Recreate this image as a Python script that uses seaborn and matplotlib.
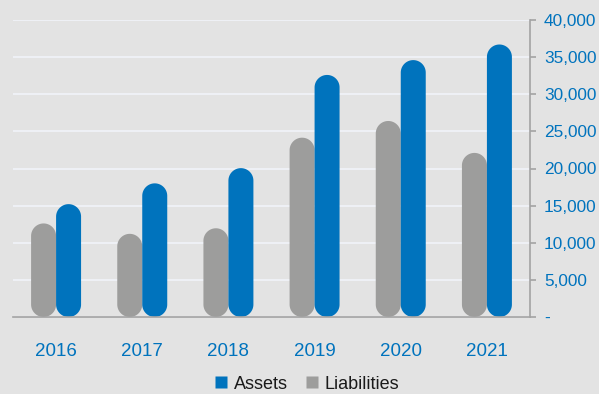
import matplotlib
matplotlib.use("Agg")
import matplotlib.pyplot as plt
from matplotlib.patches import Polygon
from matplotlib.lines import Line2D
from matplotlib.ticker import FuncFormatter, FixedLocator
import seaborn as sns
import pandas as pd
import numpy as np

years = ["2016", "2017", "2018", "2019", "2020", "2021"]
assets = [15200, 18000, 20050, 32600, 34600, 36700]
liabilities = [12600, 11200, 11950, 24150, 26400, 22100]
series_names = ["Liabilities", "Assets"]
legend_order = ["Assets", "Liabilities"]
y_ticks = [0, 5000, 10000, 15000, 20000, 25000, 30000, 35000, 40000]

BLUE = "#0073BD"
GRAY = "#9D9D9C"
BG = "#E3E3E3"
GRID = "#EEF0F5"
AXIS = "#A3A3A3"

df = pd.DataFrame({
    "year": years * 2,
    "value": liabilities + assets,
    "series": ["Liabilities"] * len(years) + ["Assets"] * len(years),
})

sns.set_style("white")
plt.rcParams["font.family"] = ["Liberation Sans", "DejaVu Sans"]

fig = plt.figure(figsize=(5.99, 3.94), dpi=100, facecolor=BG)
ax = fig.add_axes([13 / 599, (394 - 317) / 394, 517 / 599, 297 / 394])
ax.set_facecolor(BG)

sns.barplot(data=df, x="year", y="value", hue="series", hue_order=series_names,
            palette={"Liabilities": GRAY, "Assets": BLUE}, width=0.58,
            ax=ax, legend=False, saturation=1)

ax.set_xlim(-0.5, 5.5)
ax.set_ylim(0, 40000)

# replace bars with pill-shaped bars (semicircular ends), built in pixel space
fig.canvas.draw()
to_px = ax.transData
to_data = ax.transData.inverted()
patches = list(ax.patches)
for p in patches:
    x, y = p.get_x(), p.get_y()
    w, h = p.get_width(), p.get_height()
    fc = p.get_facecolor()
    p.remove()
    (x0, y0), (x1, y1) = to_px.transform([(x, y), (x + w, y + h)])
    cx = (x0 + x1) / 2
    r = (x1 - x0) / 2
    r_eff = min(r, (y1 - y0) / 2)
    t_top = np.linspace(0, np.pi, 60)
    t_bot = np.linspace(np.pi, 2 * np.pi, 60)
    top = np.column_stack([cx + r * np.cos(t_top), (y1 - r_eff) + r_eff * np.sin(t_top)])
    bot = np.column_stack([cx + r * np.cos(t_bot), (y0 + r_eff) + r_eff * np.sin(t_bot)])
    verts_px = np.vstack([top, bot])
    verts = to_data.transform(verts_px)
    ax.add_patch(Polygon(verts, closed=True, facecolor=fc, edgecolor="none", zorder=3))

# grid
ax.yaxis.set_major_locator(FixedLocator(y_ticks))
ax.grid(axis="y", color=GRID, linewidth=1.5, zorder=0)
ax.grid(axis="x", visible=False)
ax.set_axisbelow(True)

# spines
for s in ["top", "left"]:
    ax.spines[s].set_visible(False)
for s in ["bottom", "right"]:
    ax.spines[s].set_color(AXIS)
    ax.spines[s].set_linewidth(1.2)
    ax.spines[s].set_zorder(4)

# y axis on right
ax.yaxis.tick_right()
ax.yaxis.set_label_position("right")
ax.yaxis.set_major_formatter(FuncFormatter(lambda v, pos: "-" if v == 0 else f"{int(v):,}"))
ax.tick_params(axis="y", which="major", direction="out", length=4, width=1.2,
               color=AXIS, pad=6, labelsize=12.4, labelcolor=BLUE, left=False, right=True)

# x axis
ax.xaxis.set_minor_locator(FixedLocator([i - 0.5 for i in range(len(years) + 1)]))
ax.tick_params(axis="x", which="major", length=0, pad=19, labelsize=13.5, labelcolor=BLUE)
ax.tick_params(axis="x", which="minor", direction="out", length=5, width=1.2, color=AXIS)
ax.set_xlabel("")
ax.set_ylabel("")

# legend
colors = {"Assets": BLUE, "Liabilities": GRAY}
handles = [Line2D([], [], marker="s", linestyle="none", markersize=8.2,
                  markerfacecolor=colors[n], markeredgecolor="none") for n in legend_order]
fig.legend(handles, legend_order, loc="lower center", bbox_to_anchor=(307 / 599, -0.038),
           ncol=2, frameon=False, fontsize=13, handlelength=0.7, handletextpad=0.35,
           columnspacing=0.95, labelcolor="#1a1a1a")

fig.savefig("out.png", dpi=100, facecolor=BG)
